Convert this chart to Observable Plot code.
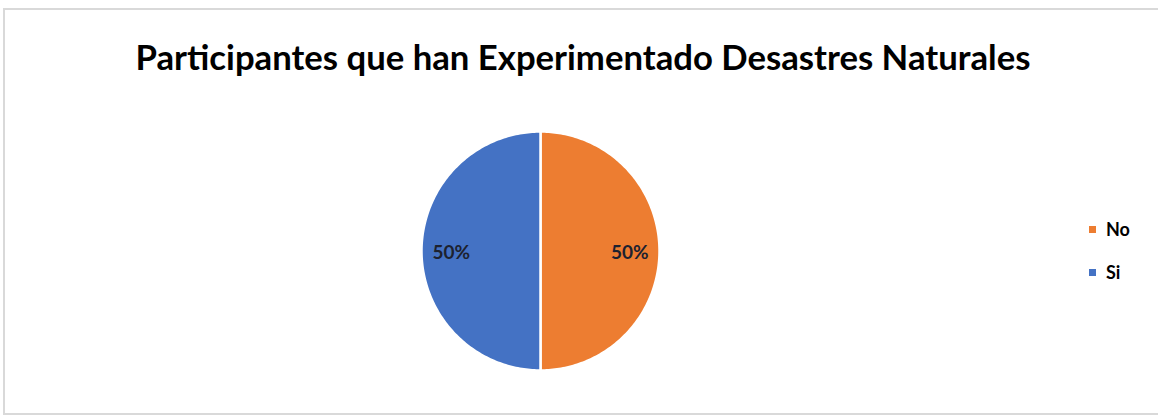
<!DOCTYPE html>
<html><head><meta charset="utf-8">
<script src="https://cdn.jsdelivr.net/npm/d3@7"></script>
<script src="https://cdn.jsdelivr.net/npm/@observablehq/plot@0.6"></script>
<style>
body{margin:0;background:#fff;overflow:hidden}
#wrap{position:relative;width:1158px;height:416px;overflow:hidden;font-family:Lato,"Open Sans",sans-serif;background:#fff}
#frame{position:absolute;left:3px;top:8px;width:1170px;height:407px;border:2px solid #d9d9d9;box-sizing:border-box}
#title{position:absolute;left:0;width:1166px;top:36px;text-align:center;font-weight:bold;font-size:31px;color:#000;white-space:nowrap;line-height:1.2}
#chart{position:absolute;left:0;top:0}
#legend{position:absolute;left:1089px;top:216px;font-weight:bold;font-size:18px;color:#000}
.item{display:flex;align-items:center;height:26px;margin-bottom:17px}
.sw{width:7px;height:7px;margin-right:10px}
</style></head>
<body>
<div id="wrap">
  <div id="frame"></div>
  <div id="chart"></div>
  <div id="title"></div>
  <div id="legend"></div>
</div>
<script>
const titleText = "Participantes que han Experimentado Desastres Naturales";
const categories = ["No", "Si"];
const values = [50, 50];
const colors = ["#ED7D31", "#4472C4"];
const labels = ["50%", "50%"];

// title sized to match reference width
const titleEl = document.getElementById("title");
titleEl.textContent = titleText;
const cv = document.createElement("canvas").getContext("2d");
cv.font = "bold 100px Lato";
const w100 = cv.measureText(titleText).width;
titleEl.style.fontSize = (100 * 895 / w100).toFixed(1) + "px";

const arcs = d3.pie().sort(null)(values);
const slicePts = [];
arcs.forEach((a, i) => {
  const n = 180;
  slicePts.push({cat: categories[i], x: 0, y: 0});
  for (let k = 0; k <= n; k++) {
    const t = a.startAngle + (a.endAngle - a.startAngle) * k / n;
    slicePts.push({cat: categories[i], x: Math.sin(t), y: Math.cos(t)});
  }
  slicePts.push({cat: categories[i], x: 0, y: 0});
});
const labelPts = arcs.map((a, i) => {
  const m = (a.startAngle + a.endAngle) / 2;
  return {cat: categories[i], label: labels[i], x: 0.75 * Math.sin(m), y: 0.75 * Math.cos(m)};
});

const chart = Plot.plot({
  width: 1158, height: 416,
  marginLeft: 421, marginRight: 499, marginTop: 131, marginBottom: 46,
  x: {domain: [-1, 1], axis: null},
  y: {domain: [-1, 1], axis: null},
  color: {domain: categories, range: colors},
  style: {fontFamily: "Lato, 'Open Sans', sans-serif", background: "transparent"},
  marks: [
    Plot.line(slicePts, {x: "x", y: "y", z: "cat", fill: "cat", stroke: "white", strokeWidth: 2.5}),
    Plot.text(labelPts, {x: "x", y: "y", dy: 2, text: "label", fontSize: 19, fontWeight: "bold", fill: "#1d2230"})
  ]
});
document.getElementById("chart").appendChild(chart);

const legend = document.getElementById("legend");
categories.forEach((c, i) => {
  const item = document.createElement("div");
  item.className = "item";
  const sw = document.createElement("span");
  sw.className = "sw";
  sw.style.background = colors[i];
  const tx = document.createElement("span");
  tx.textContent = c;
  item.appendChild(sw); item.appendChild(tx);
  legend.appendChild(item);
});
</script>
</body></html>
